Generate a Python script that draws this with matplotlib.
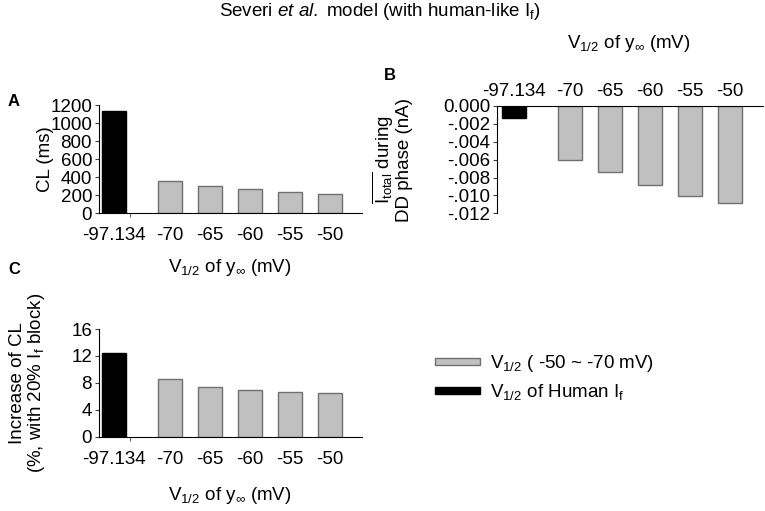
import matplotlib
matplotlib.use("Agg")
import matplotlib.pyplot as plt
from matplotlib.patches import Patch, Rectangle
from matplotlib.legend_handler import HandlerPatch

plt.rcParams['font.family'] = ['Liberation Sans', 'DejaVu Sans']
plt.rcParams['mathtext.fontset'] = 'custom'
plt.rcParams['mathtext.rm'] = 'Liberation Sans'
plt.rcParams['mathtext.it'] = 'Liberation Sans:italic'
plt.rcParams['mathtext.bf'] = 'Liberation Sans:bold'
plt.rcParams['mathtext.fallback'] = 'stix'

# ---- data ----
categories = ['-97.134', '-70', '-65', '-60', '-55', '-50']
cl_ms = [1135, 354, 303, 269, 236, 214]
itotal_nA = [-0.00138, -0.00604, -0.00738, -0.00887, -0.01007, -0.01088]
increase_cl = [12.5, 8.5, 7.4, 6.9, 6.6, 6.5]
a_ticks = [0, 200, 400, 600, 800, 1000, 1200]
b_ticks = [0.0, -0.002, -0.004, -0.006, -0.008, -0.010, -0.012]
b_ticklabels = ['0.000', '-.002', '-.004', '-.006', '-.008', '-.010', '-.012']
c_ticks = [0, 4, 8, 12, 16]
positions = [0, 1.4, 2.4, 3.4, 4.4, 5.4]
minor_pos = [0.4, 1.4, 2.4, 3.4, 4.4, 5.4]

GRAY = '#c0c0c0'
EDGE = '#707070'
colors = ['black'] + [GRAY] * 5
edges = ['black'] + [EDGE] * 5

W, H = 765, 511
fig = plt.figure(figsize=(W / 100, H / 100), dpi=100)

def frac(x0, x1, ytop, ybot):
    return [x0 / W, 1 - ybot / H, (x1 - x0) / W, (ybot - ytop) / H]

FS = 13.5

def style_bottom(ax):
    ax.spines['top'].set_visible(False)
    ax.spines['right'].set_visible(False)
    ax.set_xlim(-0.375, 6.2)
    ax.set_xticks(positions)
    ax.set_xticklabels(categories, fontsize=FS)
    ax.tick_params(axis='x', which='major', length=0, pad=10)
    ax.set_xticks(minor_pos, minor=True)
    ax.tick_params(axis='x', which='minor', length=3, direction='out', color='#404040')
    ax.tick_params(axis='y', length=3, labelsize=FS, pad=2, color='#404040')

# Panel A
axA = fig.add_axes(frac(99, 362, 105, 213.3))
axA.bar(positions, cl_ms, width=0.61, color=colors, edgecolor=edges, linewidth=1)
axA.set_ylim(0, 1200)
axA.set_yticks(a_ticks)
style_bottom(axA)

# Panel C
axC = fig.add_axes(frac(99, 362, 329, 436.7))
axC.bar(positions, increase_cl, width=0.61, color=colors, edgecolor=edges, linewidth=1)
axC.set_ylim(0, 16)
axC.set_yticks(c_ticks)
style_bottom(axC)

# Panel B
axB = fig.add_axes(frac(497, 763, 106, 213.3))
axB.bar(positions, itotal_nA, width=0.61, color=colors, edgecolor=edges, linewidth=1)
axB.set_ylim(-0.012, 0)
axB.set_yticks(b_ticks)
axB.set_yticklabels(b_ticklabels, fontsize=FS)
axB.set_xlim(-0.425, 6.225)
axB.spines['bottom'].set_visible(False)
axB.spines['right'].set_visible(False)
axB.xaxis.tick_top()
axB.set_xticks(positions)
axB.set_xticklabels(categories, fontsize=FS)
axB.tick_params(axis='x', length=0, pad=4)
axB.tick_params(axis='y', length=3, pad=2, color='#404040')

# texts
def ft(x, y, s, **kw):
    kw.setdefault('fontsize', FS)
    fig.text(x / W, 1 - y / H, s, **kw)

ft(380, 12, r'Severi $\mathit{et\ al.}$ model (with human-like I$_\mathrm{f}$)', ha='center', va='center')
ft(8, 102, 'A', fontweight='bold', ha='left', va='center', fontsize=12)
ft(384, 76, 'B', fontweight='bold', ha='left', va='center', fontsize=12)
ft(8, 270, 'C', fontweight='bold', ha='left', va='center', fontsize=12)

xl = r'V$_{\mathrm{1/2}}$ of y$_{\mathrm{∞}}$ (mV)'
ft(230, 268, xl, ha='center', va='center')
ft(629, 44, xl, ha='center', va='center')
ft(230, 496, xl, ha='center', va='center')

ft(45, 159, 'CL (ms)', rotation=90, ha='center', va='center')
ft(392, 160, '$\\overline{\\mathrm{I}_{\\mathrm{total}}}$ during\nDD phase (nA)',
   rotation=90, ha='center', va='center', linespacing=1.0)
ft(28, 383, 'Increase of CL\n(%, with 20% I$_\\mathrm{f}$ block)',
   rotation=90, ha='center', va='center', linespacing=1.0)


def thin_patch(legend, orig_handle, xdescent, ydescent, width, height, fontsize):
    h = 5.0
    return Rectangle((-xdescent, -ydescent + (height - h) / 2), width, h)


handles = [Patch(facecolor=GRAY, edgecolor=EDGE, linewidth=1, label=r'V$_{\mathrm{1/2}}$ ( -50 ~ -70 mV)'),
           Patch(facecolor='black', edgecolor='black', linewidth=1, label=r'V$_{\mathrm{1/2}}$ of Human I$_\mathrm{f}$')]
fig.legend(handles=handles, loc='upper left', bbox_to_anchor=(435 / W, 1 - 353 / H),
           frameon=False, fontsize=FS, handlelength=2.4, handleheight=0.7,
           handletextpad=0.55, labelspacing=0.45, borderpad=0, borderaxespad=0,
           handler_map={Patch: HandlerPatch(patch_func=thin_patch)})

fig.savefig('out.png', dpi=100)
